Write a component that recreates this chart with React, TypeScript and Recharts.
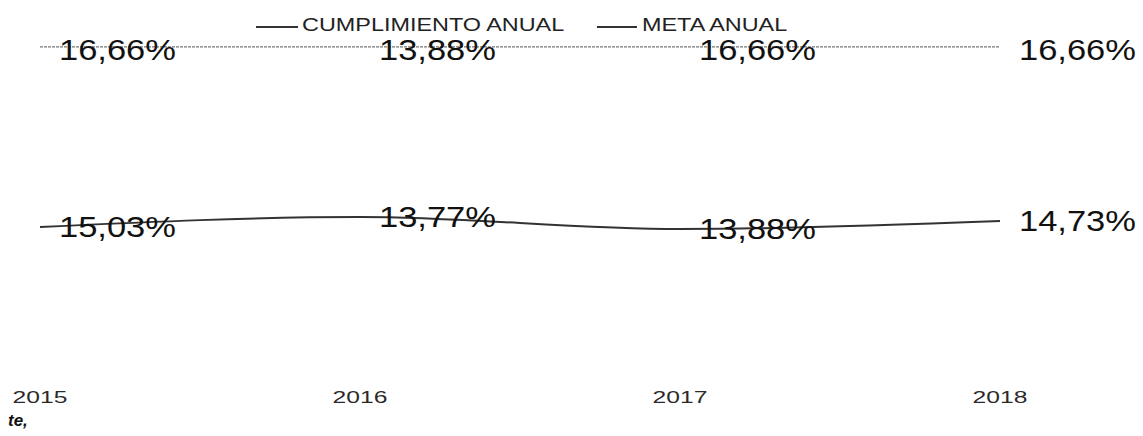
import { LineChart, Line, XAxis, YAxis, Legend, LabelList } from "recharts";

// years on the x axis
const years = ["2015", "2016", "2017", "2018"];

// printed data labels
const metaLabels = ["16,66%", "13,88%", "16,66%", "16,66%"];
const cumplimientoLabels = ["15,03%", "13,77%", "13,88%", "14,73%"];

// height at which each line is drawn
const metaLevel = [16.66, 16.66, 16.66, 16.66];
const cumplimientoLevel = [7.65, 8.15, 7.55, 7.95];

const data = years.map((year, i) => ({
  year,
  meta: metaLevel[i],
  cumplimiento: cumplimientoLevel[i],
  metaLabel: metaLabels[i],
  cumplimientoLabel: cumplimientoLabels[i],
}));

const FONT = "'Liberation Sans', Arial, sans-serif";

function YearTick({ x, y, payload }: any) {
  return (
    <text
      x={0}
      y={0}
      transform={`translate(${x},${y + 9}) scale(1.45,1)`}
      textAnchor="middle"
      dominantBaseline="central"
      fontFamily={FONT}
      fontSize={17}
      fill="#2a2a2a"
    >
      {payload.value}
    </text>
  );
}

function makeLabel(dy: number) {
  return function ValueLabel(props: any) {
    const { x, y, value } = props;
    return (
      <text
        x={0}
        y={0}
        transform={`translate(${x + 19},${y + dy}) scale(1.15,1)`}
        textAnchor="start"
        dominantBaseline="central"
        fontFamily={FONT}
        fontSize={30}
        fill="#111"
      >
        {value}
      </text>
    );
  };
}

function TopLegend() {
  const lineStyle = {
    position: "absolute" as const,
    top: 26,
    height: 2,
    background: "#333",
  };
  const textStyle = {
    position: "absolute" as const,
    top: 15,
    fontFamily: FONT,
    fontSize: 18,
    lineHeight: "20px",
    color: "#222",
    whiteSpace: "nowrap" as const,
    transform: "scaleX(1.3)",
    transformOrigin: "left center",
  };
  return (
    <div style={{ position: "relative", width: 1143, height: 40 }}>
      <div style={{ ...lineStyle, left: 256, width: 42 }} />
      <div style={{ ...textStyle, left: 302 }}>CUMPLIMIENTO ANUAL</div>
      <div style={{ ...lineStyle, left: 597, width: 40 }} />
      <div style={{ ...textStyle, left: 642 }}>META ANUAL</div>
    </div>
  );
}

export default function App() {
  return (
    <div
      style={{
        position: "absolute",
        left: 0,
        top: 0,
        width: 1143,
        height: 436,
        background: "#fff",
      }}
    >
      <LineChart
        width={1143}
        height={436}
        data={data}
        margin={{ top: 20, right: 143, bottom: 16, left: 40 }}
      >
        <XAxis
          dataKey="year"
          axisLine={false}
          tickLine={false}
          height={40}
          interval={0}
          tick={<YearTick />}
        />
        <YAxis hide domain={[0, 18]} />
        <Legend
          verticalAlign="middle"
          align="center"
          layout="horizontal"
          wrapperStyle={{ top: 0, left: 0, width: 1143 }}
          content={() => <TopLegend />}
        />
        <Line
          dataKey="meta"
          name="META ANUAL"
          type="linear"
          stroke="#777"
          strokeWidth={1.3}
          strokeDasharray="3 1"
          dot={false}
          isAnimationActive={false}
        >
          <LabelList dataKey="metaLabel" content={makeLabel(3)} />
        </Line>
        <Line
          dataKey="cumplimiento"
          name="CUMPLIMIENTO ANUAL"
          type="monotone"
          stroke="#333"
          strokeWidth={2}
          dot={false}
          isAnimationActive={false}
        >
          <LabelList dataKey="cumplimientoLabel" content={makeLabel(0)} />
        </Line>
      </LineChart>
      <div
        style={{
          position: "absolute",
          left: 8,
          top: 411,
          fontFamily: FONT,
          fontSize: 17,
          fontWeight: "bold",
          fontStyle: "italic",
          color: "#111",
        }}
      >
        te,
      </div>
    </div>
  );
}
